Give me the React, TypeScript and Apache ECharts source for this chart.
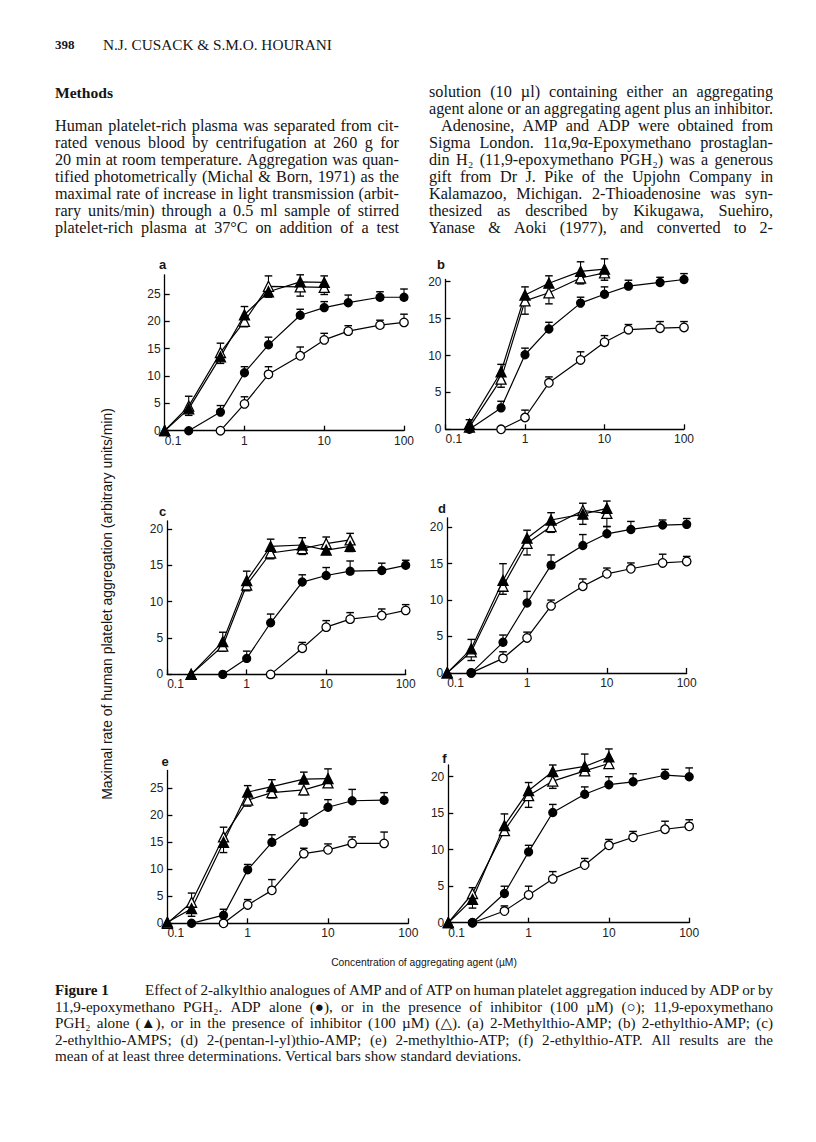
import React, { useEffect, useRef } from "react";
import * as echarts from "echarts";

// ---------- data (concentration in µM, aggregation in arbitrary units/min) ----------
// (a) 2-Methylthio-AMP
const aAdpX = [0.2, 0.5, 1, 2, 5, 10, 20, 50, 100];
const aAdpY = [0, 3.4, 10.6, 15.7, 21.1, 22.5, 23.4, 24.4, 24.4];
const aAdpErr = [0, 1.2, 1.1, 1.4, 1.1, 1.1, 1.4, 1.0, 1.5];
const aAdpInhX = [0.5, 1, 2, 5, 10, 20, 50, 100];
const aAdpInhY = [0, 4.9, 10.3, 13.7, 16.6, 18.2, 19.3, 19.8];
const aAdpInhErr = [0, 1.3, 1.4, 1.6, 1.2, 1.0, 0.9, 1.5];
const aPghX = [0.1, 0.2, 0.5, 1, 2, 5, 10];
const aPghY = [0, 4.0, 13.5, 21.2, 25.4, 27.2, 27.1];
const aPghErr = [0, -1.2, -1.2, 1.5, -1.0, 1.3, 1.2];
const aPghInhX = [0.1, 0.2, 0.5, 1, 2, 5, 10];
const aPghInhY = [0, 4.5, 14.3, 20.0, 26.4, 26.3, 26.2];
const aPghInhErr = [0, 1.8, 1.7, -1.0, 1.9, -1.7, -1.3];

// (b) 2-ethylthio-AMP
const bAdpX = [0.2, 0.5, 1, 2, 5, 10, 20, 50, 100];
const bAdpY = [0, 2.9, 10.1, 13.6, 17.1, 18.3, 19.4, 19.9, 20.3];
const bAdpErr = [0, 0.9, 0.9, 0.9, 0.8, 1.0, 0.8, 0.7, 0.8];
const bAdpInhX = [0.5, 1, 2, 5, 10, 20, 50, 100];
const bAdpInhY = [0, 1.6, 6.3, 9.4, 11.8, 13.5, 13.7, 13.8];
const bAdpInhErr = [0, 1.0, 0.8, 1.1, 0.9, 0.7, 0.9, 0.8];
const bPghX = [0.2, 0.5, 1, 2, 5, 10];
const bPghY = [0.7, 7.8, 18.2, 19.8, 21.4, 21.7];
const bPghErr = [0.6, 1.0, 1.1, 1.0, 1.3, 1.4];
const bPghInhX = [0.2, 0.5, 1, 2, 5, 10];
const bPghInhY = [0.3, 6.8, 17.4, 18.5, 20.5, 21.2];
const bPghInhErr = [0, -1.1, -1.8, -1.5, -0.8, -1.0];

// (c) 2-ethylthio-AMPS
const cAdpX = [0.5, 1, 2, 5, 10, 20, 50, 100];
const cAdpY = [0, 2.2, 7.1, 12.7, 13.6, 14.2, 14.3, 15.0];
const cAdpErr = [0, 1.0, 1.2, 1.0, 1.1, 1.4, 1.0, 0.7];
const cAdpInhX = [2, 5, 10, 20, 50, 100];
const cAdpInhY = [0, 3.6, 6.5, 7.6, 8.1, 8.8];
const cAdpInhErr = [0, 0.8, 0.9, 0.9, 0.9, 0.8];
const cPghX = [0.2, 0.5, 1, 2, 5, 10, 20];
const cPghY = [0, 4.5, 12.9, 17.6, 17.8, 17.1, 17.6];
const cPghErr = [0, 1.3, 1.3, 1.0, 1.0, -0.6, -0.7];
const cPghInhX = [0.2, 0.5, 1, 2, 5, 10, 20];
const cPghInhY = [0, 3.9, 12.3, 16.7, 17.3, 18.0, 18.5];
const cPghInhErr = [0, -0.7, -0.8, -0.8, -0.8, 0.9, 0.9];

// (d) 2-(pentan-1-yl)thio-AMP
const dAdpX = [0.2, 0.5, 1, 2, 5, 10, 20, 50, 100];
const dAdpY = [0, 4.2, 9.6, 14.8, 17.5, 19.1, 19.7, 20.3, 20.4];
const dAdpErr = [0, 1.0, 1.6, 1.4, 1.5, 1.0, 1.1, 0.7, 0.8];
const dAdpInhX = [0.2, 0.5, 1, 2, 5, 10, 20, 50, 100];
const dAdpInhY = [0, 2.0, 4.8, 9.2, 11.9, 13.6, 14.3, 15.1, 15.3];
const dAdpInhErr = [0, 0.9, 0.8, 0.8, 1.0, 0.8, 0.8, 1.2, 0.7];
const dPghX = [0.1, 0.2, 0.5, 1, 2, 5, 10];
const dPghY = [0, 3.3, 12.7, 18.5, 21.0, 21.8, 22.6];
const dPghErr = [0, 1.3, 2.3, 1.1, 1.0, 1.5, 1.0];
const dPghInhX = [0.1, 0.2, 0.5, 1, 2, 5, 10];
const dPghInhY = [0, 2.9, 11.9, 17.8, 20.1, 22.3, 21.9];
const dPghInhErr = [0, -1.2, -1.1, -1.6, -0.8, -1.9, -1.8];

// (e) 2-methylthio-ATP
const eAdpX = [0.2, 0.5, 1, 2, 5, 10, 20, 50];
const eAdpY = [0, 1.5, 9.9, 15.0, 18.7, 21.5, 22.7, 22.8];
const eAdpErr = [0, 1.1, 1.0, 1.4, 1.7, 1.4, 2.1, 1.4];
const eAdpInhX = [0.5, 1, 2, 5, 10, 20, 50];
const eAdpInhY = [0, 3.4, 6.1, 12.9, 13.6, 14.8, 14.8];
const eAdpInhErr = [0, 1.0, 2.0, 1.0, 1.1, 1.2, 2.1];
const ePghX = [0.1, 0.2, 0.5, 1, 2, 5, 10];
const ePghY = [0.2, 2.7, 15.0, 24.3, 25.3, 26.7, 26.8];
const ePghErr = [0, -1.4, -1.9, 1.2, 1.3, 1.3, 1.8];
const ePghInhX = [0.1, 0.2, 0.5, 1, 2, 5, 10];
const ePghInhY = [0, 3.9, 16.0, 22.8, 24.2, 24.7, 26.0];
const ePghInhErr = [0, 1.7, 1.8, -1.1, -1.0, -0.9, -0.8];

// (f) 2-ethylthio-ATP
const fAdpX = [0.2, 0.5, 1, 2, 5, 10, 20, 50, 100];
const fAdpY = [0, 4.0, 9.7, 15.1, 17.6, 18.9, 19.3, 20.2, 20.0];
const fAdpErr = [0, 1.0, 0.9, 1.1, 1.0, 1.1, 1.1, 0.8, 1.2];
const fAdpInhX = [0.2, 0.5, 1, 2, 5, 10, 20, 50, 100];
const fAdpInhY = [0, 1.6, 3.8, 6.0, 7.9, 10.6, 11.7, 12.8, 13.2];
const fAdpInhErr = [0, 0.7, 1.2, 1.0, 0.9, 0.8, 0.8, 1.1, 0.9];
const fPghX = [0.1, 0.2, 0.5, 1, 2, 5, 10];
const fPghY = [0, 3.2, 13.3, 18.1, 20.7, 21.4, 22.7];
const fPghErr = [0, -1.2, 1.6, 1.1, 0.9, 1.7, 1.1];
const fPghInhX = [0.1, 0.2, 0.5, 1, 2, 5, 10];
const fPghInhY = [0, 4.0, 12.6, 17.4, 19.4, 20.8, 21.8];
const fPghInhErr = [0, 0.8, -0.6, -1.6, -1.0, -0.6, -0.5];

const yTicks25 = [0, 5, 10, 15, 20, 25];
const yTicks20 = [0, 5, 10, 15, 20];
const xTickLabels = ["0.1", "1", "10", "100"];

// ---------- texts ----------
const headerPage = "398";
const headerAuthors = "N.J. CUSACK & S.M.O. HOURANI";
const headingText = "Methods";
const leftLines = [
  "Human platelet-rich plasma was separated from cit-",
  "rated venous blood by centrifugation at 260 g for",
  "20 min at room temperature. Aggregation was quan-",
  "tified photometrically (Michal & Born, 1971) as the",
  "maximal rate of increase in light transmission (arbit-",
  "rary units/min) through a 0.5 ml sample of stirred",
  "platelet-rich plasma at 37°C on addition of a test",
];
const rightLines = [
  "solution (10 µl) containing either an aggregating",
  "agent alone or an aggregating agent plus an inhibitor.",
  "Adenosine, AMP and ADP were obtained from",
  "Sigma London. 11α,9α-Epoxymethano prostaglan-",
  "din H₂ (11,9-epoxymethano PGH₂) was a generous",
  "gift from Dr J. Pike of the Upjohn Company in",
  "Kalamazoo, Michigan. 2-Thioadenosine was syn-",
  "thesized as described by Kikugawa, Suehiro,",
  "Yanase & Aoki (1977), and converted to 2-",
];
const xTitle = "Concentration of aggregating agent (µM)";
const yTitle = "Maximal rate of human platelet aggregation (arbitrary units/min)";
const captionLabel = "Figure 1";
const captionLines = [
  "Effect of 2-alkylthio analogues of AMP and of ATP on human platelet aggregation induced by ADP or by",
  "11,9-epoxymethano PGH₂. ADP alone (●), or in the presence of inhibitor (100 µM) (○); 11,9-epoxymethano",
  "PGH₂ alone (▲), or in the presence of inhibitor (100 µM) (△). (a) 2-Methylthio-AMP; (b) 2-ethylthio-AMP; (c)",
  "2-ethylthio-AMPS; (d) 2-(pentan-l-yl)thio-AMP; (e) 2-methylthio-ATP; (f) 2-ethylthio-ATP. All results are the",
  "mean of at least three determinations. Vertical bars show standard deviations.",
];

// ---------- layout ----------
const SERIF = "'Liberation Serif', 'Times New Roman', 'DejaVu Serif', serif";
const SANS = "'Liberation Sans', Arial, 'DejaVu Sans', sans-serif";
const INK = "#151515";

type S = { kind: string; x: number[]; y: number[]; err: number[] };
const panels = [
  { letter: "a", lx: 162.5, ly: 264, left: 164.7, top: 274.8, width: 239.3, height: 155.9, yMax: 28.5, ticks: yTicks25,
    series: [
      { kind: "pghInh", x: aPghInhX, y: aPghInhY, err: aPghInhErr },
      { kind: "pgh", x: aPghX, y: aPghY, err: aPghErr },
      { kind: "adpInh", x: aAdpInhX, y: aAdpInhY, err: aAdpInhErr },
      { kind: "adp", x: aAdpX, y: aAdpY, err: aAdpErr },
    ] as S[] },
  { letter: "b", lx: 441, ly: 264, left: 445.5, top: 279.5, width: 238.5, height: 149.8, yMax: 20.3, ticks: yTicks20,
    series: [
      { kind: "pghInh", x: bPghInhX, y: bPghInhY, err: bPghInhErr },
      { kind: "pgh", x: bPghX, y: bPghY, err: bPghErr },
      { kind: "adpInh", x: bAdpInhX, y: bAdpInhY, err: bAdpInhErr },
      { kind: "adp", x: bAdpX, y: bAdpY, err: bAdpErr },
    ] as S[] },
  { letter: "c", lx: 162.5, ly: 511, left: 167.2, top: 521, width: 238.5, height: 153.4, yMax: 21.1, ticks: yTicks20,
    series: [
      { kind: "pghInh", x: cPghInhX, y: cPghInhY, err: cPghInhErr },
      { kind: "pgh", x: cPghX, y: cPghY, err: cPghErr },
      { kind: "adpInh", x: cAdpInhX, y: cAdpInhY, err: cAdpInhErr },
      { kind: "adp", x: cAdpX, y: cAdpY, err: cAdpErr },
    ] as S[] },
  { letter: "d", lx: 442, ly: 508.5, left: 447.2, top: 517.8, width: 239.5, height: 155.1, yMax: 21.3, ticks: yTicks20,
    series: [
      { kind: "pghInh", x: dPghInhX, y: dPghInhY, err: dPghInhErr },
      { kind: "pgh", x: dPghX, y: dPghY, err: dPghErr },
      { kind: "adpInh", x: dAdpInhX, y: dAdpInhY, err: dAdpInhErr },
      { kind: "adp", x: dAdpX, y: dAdpY, err: dAdpErr },
    ] as S[] },
  { letter: "e", lx: 165, ly: 761.5, left: 167.4, top: 770.5, width: 240.9, height: 152.8, yMax: 28.3, ticks: yTicks25,
    series: [
      { kind: "pghInh", x: ePghInhX, y: ePghInhY, err: ePghInhErr },
      { kind: "pgh", x: ePghX, y: ePghY, err: ePghErr },
      { kind: "adpInh", x: eAdpInhX, y: eAdpInhY, err: eAdpInhErr },
      { kind: "adp", x: eAdpX, y: eAdpY, err: eAdpErr },
    ] as S[] },
  { letter: "f", lx: 444.5, ly: 758, left: 448.3, top: 765, width: 240.9, height: 157.7, yMax: 21.6, ticks: yTicks20,
    series: [
      { kind: "pghInh", x: fPghInhX, y: fPghInhY, err: fPghInhErr },
      { kind: "pgh", x: fPghX, y: fPghY, err: fPghErr },
      { kind: "adpInh", x: fAdpInhX, y: fAdpInhY, err: fAdpInhErr },
      { kind: "adp", x: fAdpX, y: fAdpY, err: fAdpErr },
    ] as S[] },
];

const markerStyle: Record<string, any> = {
  adp: { symbol: "circle", size: 8, color: "#000", border: "#000" },
  adpInh: { symbol: "circle", size: 8.5, color: "#fff", border: "#000" },
  pgh: { symbol: "triangle", size: 10, color: "#000", border: "#000" },
  pghInh: { symbol: "triangle", size: 10, color: "#fff", border: "#000" },
};

// ---------- text helpers ----------
let measureCtx: CanvasRenderingContext2D | null = null;
function tw(text: string, size: number, family: string, weight = "normal") {
  if (!measureCtx) measureCtx = document.createElement("canvas").getContext("2d");
  measureCtx!.font = `${weight} ${size}px ${family}`;
  return measureCtx!.measureText(text).width;
}
function fit(text: string, width: number, family: string, weight = "normal") {
  return (20 * width) / tw(text, 20, family, weight);
}
function txt(text: string, x: number, y: number, size: number, family: string, weight = "normal", extra: any = {}) {
  return {
    type: "text",
    x,
    y,
    silent: true,
    style: { text, fontSize: size, fontFamily: family, fontWeight: weight, fill: INK, align: "left", verticalAlign: "middle", ...extra },
  };
}
function jLine(text: string, x: number, y: number, width: number, size: number, family: string, justify = true, weight = "normal") {
  const words = text.split(" ");
  const n = words.length;
  if (!justify || n < 2) return [txt(text, x, y, size, family, weight)];
  let s = size;
  let widths = words.map((w) => tw(w, s, family, weight));
  let total = widths.reduce((p, q) => p + q, 0);
  const minGap = s * 0.2;
  if (total + minGap * (n - 1) > width) {
    const k = (width - minGap * (n - 1)) / total;
    s = s * k;
    widths = widths.map((w) => w * k);
    total = total * k;
  }
  const gap = (width - total) / (n - 1);
  const out: any[] = [];
  let cx = x;
  words.forEach((w, i) => {
    out.push(txt(w, cx, y, s, family, weight));
    cx += widths[i] + gap;
  });
  return out;
}

function buildGraphics() {
  const g: any[] = [];
  // header
  g.push(txt(headerPage, 55, 44, 13, SERIF, "bold"));
  g.push(txt(headerAuthors, 103, 44, fit(headerAuthors, 229, SERIF), SERIF));
  g.push(txt(headingText, 55, 92, fit(headingText, 58, SERIF, "bold"), SERIF, "bold"));
  const bodySize = fit(rightLines[1], 344, SERIF);
  leftLines.forEach((l, i) => g.push(...jLine(l, 55, 126 + i * 17, 344, bodySize, SERIF, true)));
  rightLines.forEach((l, i) => {
    const indent = i === 2 ? 12 : 0;
    g.push(...jLine(l, 429 + indent, 92 + i * 17, 344 - indent, bodySize, SERIF, true));
  });
  // panel letters
  panels.forEach((p) => g.push(txt(p.letter, p.lx, p.ly, 13, SANS, "bold", { align: "center" })));
  // axis titles
  g.push(txt(xTitle, 424, 962, fit(xTitle, 186, SANS), SANS, "normal", { align: "center" }));
  g.push({
    type: "text",
    x: 107,
    y: 604,
    rotation: Math.PI / 2,
    silent: true,
    style: { text: yTitle, fontSize: fit(yTitle, 392, SANS), fontFamily: SANS, fill: INK, align: "center", verticalAlign: "middle" },
  });
  // caption
  const capSize = fit(captionLines[4], 467, SERIF);
  const capY = [990, 1006.5, 1023, 1039.5, 1056];
  g.push(txt(captionLabel, 55, capY[0], capSize, SERIF, "bold"));
  captionLines.forEach((l, i) => {
    const x0 = i === 0 ? 145 : 55;
    g.push(...jLine(l, x0, capY[i], 773 - x0, capSize, SERIF, i < 4));
  });
  return g;
}

function errRender(params: any, api: any) {
  const x = api.value(0);
  const y0 = api.value(1);
  const y1 = api.value(2);
  if (y0 === y1) return { type: "group", children: [] };
  const p0 = api.coord([x, y0]);
  const p1 = api.coord([x, y1]);
  const hw = 3.8;
  return {
    type: "group",
    children: [
      { type: "line", shape: { x1: p0[0], y1: p0[1], x2: p1[0], y2: p1[1] }, style: { stroke: "#000", lineWidth: 1.1 } },
      { type: "line", shape: { x1: p1[0] - hw, y1: p1[1], x2: p1[0] + hw, y2: p1[1] }, style: { stroke: "#000", lineWidth: 1.4 } },
    ],
  };
}

function buildOption() {
  const grid = panels.map((p) => ({ left: p.left, top: p.top, width: p.width, height: p.height, containLabel: false }));
  const axisLine = { show: true, onZero: false, lineStyle: { color: "#000", width: 1.3 } };
  const xAxis = panels.map((p, i) => ({
    type: "log",
    logBase: 10,
    min: 0.1,
    max: 100,
    gridIndex: i,
    axisLine,
    axisTick: { show: true, inside: true, length: 5, lineStyle: { color: "#000", width: 1.3 } },
    minorTick: { show: false },
    splitLine: { show: false },
    axisLabel: {
      fontSize: 12,
      color: "#222",
      fontFamily: SANS,
      margin: 4,
      alignMinLabel: "left",
      formatter: (v: number) => xTickLabels[Math.round(Math.log10(v)) + 1] ?? "",
    },
  }));
  const yAxis = panels.map((p, i) => ({
    type: "value",
    min: 0,
    max: p.yMax,
    interval: 5,
    gridIndex: i,
    axisLine,
    axisTick: { show: true, inside: true, length: 5, lineStyle: { color: "#000", width: 1.3 }, customValues: p.ticks },
    splitLine: { show: false },
    axisLabel: {
      fontSize: 12,
      color: "#222",
      fontFamily: SANS,
      margin: 4,
      customValues: p.ticks,
      formatter: (v: number) => (Math.abs(v % 5) < 1e-6 ? String(v) : ""),
    },
  }));
  const series: any[] = [];
  panels.forEach((p, i) => {
    p.series.forEach((s) => {
      series.push({
        type: "custom",
        xAxisIndex: i,
        yAxisIndex: i,
        renderItem: errRender,
        clip: false,
        silent: true,
        z: 2,
        encode: { x: 0, y: 1 },
        data: s.x.map((x, k) => [x, s.y[k], s.y[k] + s.err[k]]),
      });
    });
    p.series.forEach((s) => {
      const m = markerStyle[s.kind];
      series.push({
        type: "line",
        xAxisIndex: i,
        yAxisIndex: i,
        clip: false,
        silent: true,
        z: 3,
        symbol: m.symbol,
        symbolSize: m.size,
        showAllSymbol: true,
        itemStyle: { color: m.color, borderColor: m.border, borderWidth: 1.3 },
        lineStyle: { color: "#000", width: 1.2 },
        data: s.x.map((x, k) => [x, s.y[k]]),
      });
    });
  });
  return {
    animation: false,
    backgroundColor: "#ffffff",
    grid,
    xAxis,
    yAxis,
    series,
    graphic: { elements: buildGraphics() },
  };
}

export default function App() {
  const ref = useRef<HTMLDivElement>(null);
  useEffect(() => {
    if (!ref.current) return;
    const chart = echarts.init(ref.current, undefined, { renderer: "svg" });
    chart.setOption(buildOption() as any);
    return () => chart.dispose();
  }, []);
  return (
    <div
      ref={ref}
      style={{ position: "absolute", left: 0, top: 0, width: 816, height: 1142, background: "#fff" }}
    />
  );
}
